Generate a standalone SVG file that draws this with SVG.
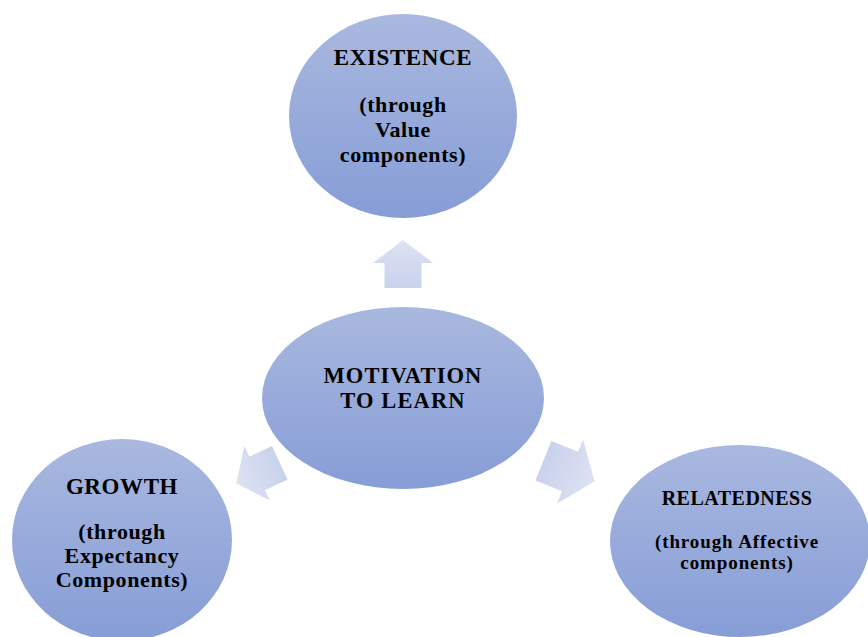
<svg xmlns="http://www.w3.org/2000/svg" width="868" height="637" viewBox="0 0 868 637">
<defs>
<linearGradient id="eg" x1="0" y1="0" x2="0" y2="1">
<stop offset="0" stop-color="#a9b8df"/>
<stop offset="1" stop-color="#869dd6"/>
</linearGradient>
<linearGradient id="ag" x1="0" y1="0" x2="1" y2="0">
<stop offset="0" stop-color="#c9d2ec"/>
<stop offset="1" stop-color="#dde2f3"/>
</linearGradient>
<path id="arrow" d="M24,0 L1,-30 L1,-18.5 L-24,-18.5 L-24,18.5 L1,18.5 L1,30 Z"/>
</defs>
<style>
text{font-family:"Liberation Serif","Times New Roman",serif;font-weight:bold;fill:#000;text-anchor:middle}
.t{font-size:22px;letter-spacing:0.6px}
.m{font-size:22.5px;letter-spacing:1.1px}
.s{font-size:19px;letter-spacing:0.9px}
.h{font-size:20px;letter-spacing:0.5px}
ellipse{fill:url(#eg)}
.arr use{fill:url(#ag)}
</style>
<rect width="868" height="637" fill="#fff"/>
<g id="connectors" class="arr">
<use href="#arrow" transform="translate(403,264) rotate(-90)"/>
<use href="#arrow" transform="translate(258,473) rotate(155)"/>
<use href="#arrow" transform="translate(569,471) rotate(22) scale(1.15)"/>
</g>
<g id="existence">
<ellipse cx="403" cy="116" rx="114" ry="102"/>
<text class="t" x="403" y="65" style="font-size:23px">EXISTENCE</text>
<text class="t"><tspan x="403" y="112">(through</tspan><tspan x="403" y="137">Value</tspan><tspan x="403" y="162">components)</tspan></text>
</g>
<g id="motivation">
<ellipse cx="403" cy="398" rx="141" ry="91"/>
<text class="m"><tspan x="403" y="382.5">MOTIVATION</tspan><tspan x="403" y="408">TO LEARN</tspan></text>
</g>
<g id="growth">
<ellipse cx="122" cy="540" rx="110" ry="101"/>
<text class="t" x="122" y="494" style="font-size:23px">GROWTH</text>
<text class="t"><tspan x="122" y="539">(through</tspan><tspan x="122" y="563">Expectancy</tspan><tspan x="122" y="587">Components)</tspan></text>
</g>
<g id="relatedness">
<ellipse cx="740" cy="541" rx="130" ry="96"/>
<text class="h" x="737" y="505">RELATEDNESS</text>
<text class="s"><tspan x="737" y="547.5">(through Affective</tspan><tspan x="737" y="568.5">components)</tspan></text>
</g>
</svg>
